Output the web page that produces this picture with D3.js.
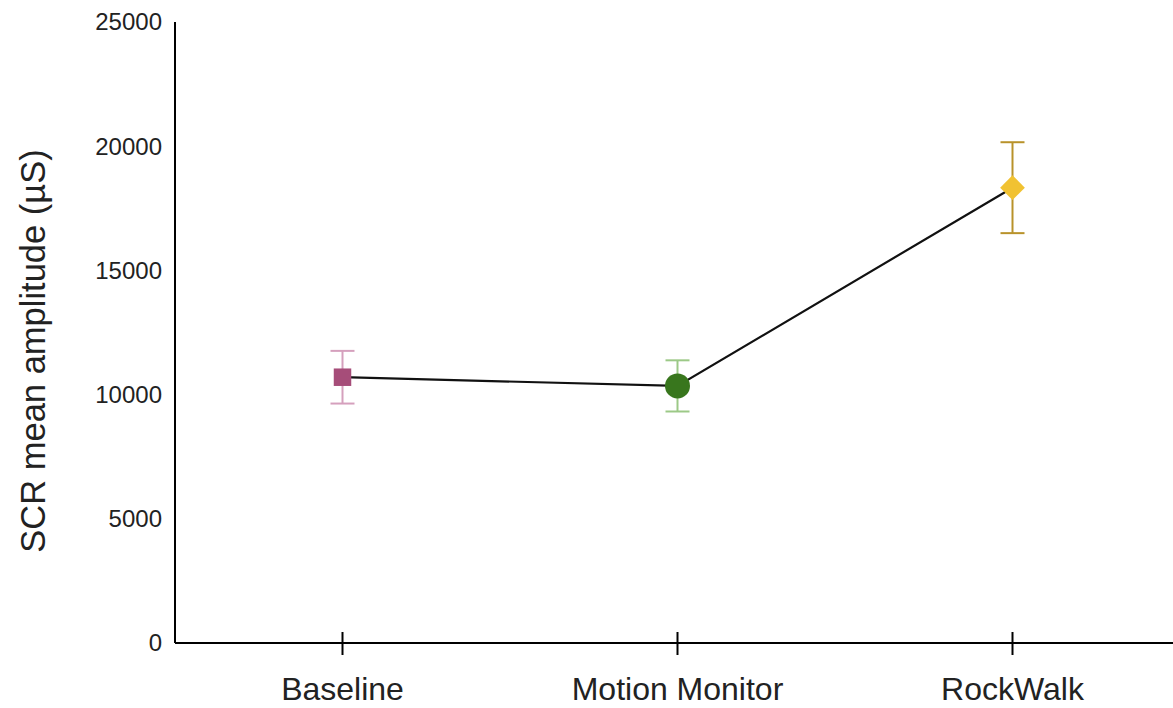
<!DOCTYPE html>
<html>
<head>
<meta charset="utf-8">
<script src="https://cdn.jsdelivr.net/npm/d3@7"></script>
<style>
  html, body { margin: 0; padding: 0; background: #fff; }
  svg { display: block; font-family: "Liberation Sans", Arial, sans-serif; }
</style>
</head>
<body>
<svg id="chart" width="1173" height="708"></svg>
<script>
// ---- data ----
const categories = ["Baseline", "Motion Monitor", "RockWalk"];
const means = [10700, 10350, 18330];
const errors = [1060, 1030, 1830];
const yTicks = [0, 5000, 10000, 15000, 20000, 25000];
const yTitle = "SCR mean amplitude (µS)";

// ---- styles ----
const markerColors = ["#a64d79", "#38761d", "#f1c232"];
const errorColors = ["#d5a0bd", "#9cc987", "#b8922a"];
const markerShapes = ["square", "circle", "diamond"];

const svg = d3.select("#chart");
const x = d3.scaleBand().domain(categories).range([175, 1180]);
const y = d3.scaleLinear().domain([0, 25000]).range([643, 22]);
const cx = d => x(d) + x.bandwidth() / 2;

// y axis line
svg.append("line").attr("x1", 175).attr("x2", 175).attr("y1", y(25000)).attr("y2", y(0))
  .attr("stroke", "#000").attr("stroke-width", 2);
// x axis line
svg.append("line").attr("x1", 175).attr("x2", 1173).attr("y1", y(0)).attr("y2", y(0))
  .attr("stroke", "#000").attr("stroke-width", 2);

// y tick labels
svg.append("g").selectAll("text").data(yTicks).join("text")
  .attr("x", 162).attr("y", d => y(d)).attr("dy", "0.35em")
  .attr("text-anchor", "end").attr("font-size", 24).attr("fill", "#222")
  .text(d => d);

// x ticks
svg.append("g").selectAll("line").data(categories).join("line")
  .attr("x1", d => cx(d)).attr("x2", d => cx(d))
  .attr("y1", y(0) - 11).attr("y2", y(0) + 12)
  .attr("stroke", "#000").attr("stroke-width", 2);

svg.append("g").selectAll("text").data(categories).join("text")
  .attr("x", d => cx(d)).attr("y", 700)
  .attr("text-anchor", "middle").attr("font-size", 32).attr("fill", "#222")
  .text(d => d);

// y title
svg.append("text")
  .attr("transform", "translate(45," + 351 + ") rotate(-90)")
  .attr("text-anchor", "middle").attr("font-size", 34.5).attr("fill", "#222")
  .text(yTitle);

// connecting line
const pts = categories.map((c, i) => [cx(c), y(means[i])]);
svg.append("path").attr("d", d3.line()(pts))
  .attr("fill", "none").attr("stroke", "#111").attr("stroke-width", 2.2);

// error bars
const eb = svg.append("g").selectAll("g").data(categories).join("g");
eb.append("line")
  .attr("x1", d => cx(d)).attr("x2", d => cx(d))
  .attr("y1", (d, i) => y(means[i] + errors[i])).attr("y2", (d, i) => y(means[i] - errors[i]))
  .attr("stroke", (d, i) => errorColors[i]).attr("stroke-width", 2);
eb.append("line")
  .attr("x1", d => cx(d) - 12).attr("x2", d => cx(d) + 12)
  .attr("y1", (d, i) => y(means[i] + errors[i])).attr("y2", (d, i) => y(means[i] + errors[i]))
  .attr("stroke", (d, i) => errorColors[i]).attr("stroke-width", 2);
eb.append("line")
  .attr("x1", d => cx(d) - 12).attr("x2", d => cx(d) + 12)
  .attr("y1", (d, i) => y(means[i] - errors[i])).attr("y2", (d, i) => y(means[i] - errors[i]))
  .attr("stroke", (d, i) => errorColors[i]).attr("stroke-width", 2);

// markers
svg.append("g").selectAll("path").data(categories).join("path")
  .attr("d", (d, i) => {
    const s = markerShapes[i];
    if (s === "circle") return d3.symbol(d3.symbolCircle, Math.PI * 12.5 * 12.5)();
    return d3.symbol(d3.symbolSquare, 17.5 * 17.5)();
  })
  .attr("transform", (d, i) => "translate(" + cx(d) + "," + y(means[i]) + ")" + (markerShapes[i] === "diamond" ? " rotate(45)" : ""))
  .attr("fill", (d, i) => markerColors[i]);
</script>
</body>
</html>
